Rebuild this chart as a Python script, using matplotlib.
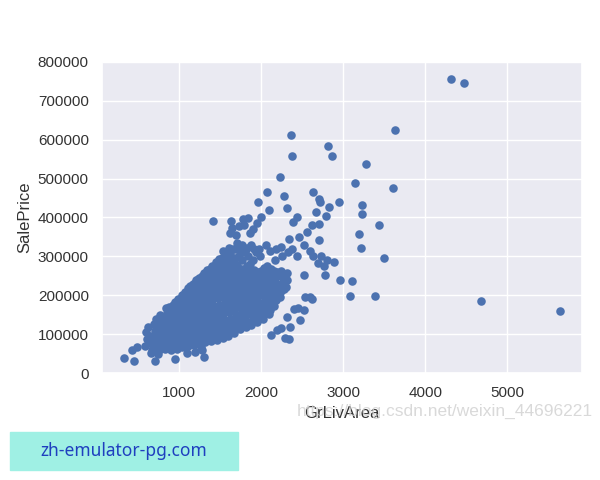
import matplotlib
matplotlib.use("Agg")
import matplotlib.pyplot as plt
import seaborn as sns

# GrLivArea (sq ft), SalePrice in $1000
core_points = [
    (590, 70), (610, 88), (605, 105), (630, 118), (640, 78), (655, 96),
    (680, 60), (700, 75), (690, 92), (710, 108), (705, 125), (720, 138), (735, 85), (730, 118),
    (760, 58), (775, 72), (770, 90), (785, 104), (765, 120), (790, 135), (780, 150), (800, 82),
    (830, 62), (845, 78), (840, 95), (855, 110), (835, 125), (850, 140), (860, 155), (845, 166), (870, 88), (875, 120),
    (905, 60), (915, 74), (925, 90), (910, 104), (930, 118), (920, 132), (935, 146), (915, 160), (930, 174), (945, 100), (950, 155),
    (975, 62), (990, 78), (985, 93), (1000, 108), (980, 122), (995, 137), (1005, 150), (985, 165), (1000, 178), (990, 190), (1015, 128),
    (1045, 66), (1060, 82), (1055, 96), (1070, 112), (1050, 126), (1065, 140), (1075, 154), (1055, 168), (1070, 182), (1060, 196), (1080, 208), (1085, 90),
    (1115, 70), (1130, 86), (1125, 100), (1140, 115), (1120, 130), (1135, 145), (1145, 158), (1125, 172), (1140, 186), (1130, 200), (1150, 212), (1135, 224), (1155, 135),
    (1185, 72), (1200, 88), (1195, 104), (1210, 118), (1190, 132), (1205, 147), (1215, 162), (1195, 176), (1210, 190), (1200, 205), (1220, 218), (1205, 232), (1215, 240),
    (1255, 76), (1270, 92), (1265, 108), (1280, 122), (1260, 136), (1275, 150), (1285, 165), (1265, 180), (1280, 194), (1270, 208), (1290, 222), (1275, 236), (1285, 250),
    (1325, 80), (1340, 95), (1335, 110), (1350, 125), (1330, 140), (1345, 155), (1355, 170), (1335, 185), (1350, 200), (1340, 214), (1360, 228), (1345, 242), (1355, 256), (1340, 266),
    (1395, 82), (1410, 98), (1405, 114), (1420, 128), (1400, 144), (1415, 158), (1425, 172), (1405, 188), (1420, 202), (1410, 216), (1430, 230), (1415, 245), (1425, 260), (1410, 275),
    (1465, 86), (1480, 102), (1475, 118), (1490, 132), (1470, 148), (1485, 162), (1495, 176), (1475, 192), (1490, 206), (1480, 220), (1500, 234), (1485, 250), (1495, 265), (1480, 280), (1490, 294),
    (1535, 90), (1550, 106), (1545, 122), (1560, 136), (1540, 152), (1555, 166), (1565, 180), (1545, 196), (1560, 210), (1550, 224), (1570, 238), (1555, 254), (1565, 270), (1550, 286), (1560, 302), (1545, 314),
    (1605, 94), (1620, 110), (1615, 126), (1630, 140), (1610, 156), (1625, 170), (1635, 184), (1615, 200), (1630, 214), (1620, 228), (1640, 242), (1625, 258), (1635, 274), (1620, 290), (1630, 306), (1615, 322),
    (1675, 104), (1690, 118), (1685, 134), (1700, 148), (1680, 162), (1695, 176), (1705, 190), (1685, 206), (1700, 220), (1690, 234), (1710, 248), (1695, 262), (1705, 278), (1690, 296), (1700, 318), (1710, 334),
    (1745, 112), (1760, 126), (1755, 142), (1770, 156), (1750, 170), (1765, 184), (1775, 198), (1755, 212), (1770, 226), (1760, 240), (1780, 254), (1765, 268), (1775, 290), (1760, 310), (1770, 330),
    (1815, 118), (1830, 132), (1825, 148), (1840, 162), (1820, 176), (1835, 190), (1845, 204), (1825, 218), (1840, 232), (1830, 246), (1850, 260), (1835, 276), (1845, 300), (1830, 322),
    (1885, 124), (1900, 138), (1895, 154), (1910, 168), (1890, 182), (1905, 196), (1915, 210), (1895, 224), (1910, 238), (1900, 252), (1920, 266), (1905, 290), (1915, 318),
    (1955, 130), (1970, 146), (1965, 162), (1980, 176), (1960, 190), (1975, 204), (1985, 218), (1965, 232), (1980, 246), (1970, 260), (1990, 300), (1975, 320),
    (2025, 140), (2040, 156), (2035, 172), (2050, 186), (2030, 200), (2045, 214), (2055, 228), (2035, 242), (2050, 256), (2040, 270), (2060, 330),
    (2095, 152), (2110, 168), (2105, 184), (2120, 198), (2100, 212), (2115, 226), (2125, 240), (2105, 254), (2120, 268), (2110, 315),
    (2165, 172), (2180, 188), (2175, 204), (2190, 218), (2170, 232), (2185, 246), (2195, 260), (2175, 290), (2190, 320),
    (2235, 195), (2250, 212), (2245, 230), (2260, 248), (2240, 262), (2255, 300), (2245, 325),
    (2310, 220), (2325, 238), (2320, 256), (2335, 310), (2340, 345),
]

# houses sitting between the columns above, where the cloud is thickest
core_fill = [
    (745, 65), (750, 98), (755, 130), (740, 110),
    (815, 68), (820, 100), (810, 115), (825, 145), (805, 130),
    (885, 70), (880, 85), (890, 115), (895, 135), (885, 150), (880, 170),
    (955, 70), (950, 85), (960, 112), (965, 142), (955, 168), (960, 182),
    (1025, 75), (1030, 100), (1020, 115), (1035, 145), (1025, 160), (1030, 188), (1040, 200),
    (1095, 78), (1100, 105), (1090, 120), (1105, 148), (1095, 162), (1100, 190), (1110, 218),
    (1165, 80), (1170, 95), (1160, 110), (1175, 140), (1165, 165), (1170, 195), (1180, 228),
    (1235, 84), (1240, 100), (1230, 126), (1245, 142), (1235, 172), (1240, 200), (1250, 230), (1245, 245),
    (1305, 88), (1310, 102), (1300, 130), (1315, 160), (1305, 178), (1310, 205), (1320, 235), (1315, 258),
    (1375, 90), (1380, 118), (1370, 134), (1385, 165), (1375, 196), (1380, 222), (1390, 250), (1385, 268),
    (1445, 94), (1450, 124), (1440, 140), (1455, 170), (1445, 198), (1450, 228), (1460, 258), (1455, 285),
    (1515, 98), (1520, 128), (1510, 144), (1525, 174), (1515, 202), (1520, 232), (1530, 262), (1525, 295),
    (1585, 102), (1590, 132), (1580, 160), (1595, 190), (1585, 218), (1590, 248), (1600, 278), (1595, 310),
    (1655, 110), (1660, 140), (1650, 168), (1665, 196), (1655, 226), (1660, 256), (1670, 286), (1665, 320),
    (1725, 118), (1730, 150), (1720, 178), (1735, 204), (1725, 232), (1730, 262), (1740, 300), (1735, 325),
    (1795, 125), (1800, 156), (1790, 184), (1805, 212), (1795, 240), (1800, 268), (1810, 310),
    (1865, 130), (1870, 160), (1860, 190), (1875, 218), (1865, 246), (1870, 280), (1880, 330),
    (1935, 138), (1940, 170), (1930, 198), (1945, 226), (1935, 254), (1940, 310),
    (2005, 148), (2010, 180), (2000, 208), (2015, 236), (2005, 262),
    (2075, 160), (2080, 192), (2070, 220), (2085, 248), (2075, 275),
    (2145, 180), (2150, 210), (2140, 238), (2155, 262),
    (2215, 200), (2220, 225), (2210, 255),
    (2285, 215), (2290, 245),
]

fringe_points = [
    (334, 39), (462, 32), (712, 32), (960, 36), (1307, 41), (437, 59), (498, 68), (1288, 59),
    (660, 51), (750, 48), (1100, 52), (1200, 55), (1267, 66),
    (1227, 239), (1180, 225), (1413, 391), (1640, 392),
    (1650, 372), (1730, 378), (1800, 380), (1850, 398), (1900, 370), (1950, 385),
    (2000, 400), (1780, 395), (1870, 360), (1620, 360), (1700, 355),
    (2118, 162), (2199, 110), (2361, 119), (2130, 98), (2250, 115), (2300, 90), (2345, 88),
    (2400, 165), (2450, 168), (2320, 145), (2482, 136), (2523, 162),
    (2543, 196), (2604, 196), (2620, 190), (2523, 252), (2786, 252), (2770, 275),
    (2700, 282), (2730, 300), (2800, 290), (2887, 286), (2705, 343), (2564, 363),
    (2440, 300), (2520, 330), (2600, 315), (2380, 320), (2460, 350), (2640, 300),
    (1972, 439), (2106, 419), (2321, 425), (2442, 402), (2394, 388),
    (2673, 413), (2798, 403), (2624, 381), (2710, 384),
]

outlier_points = [
    (4316, 755), (4476, 745), (4676, 185), (5642, 160), (3627, 625),
    (2364, 612), (2385, 558), (2822, 583), (2868, 557), (3279, 538),
    (3142, 488), (3608, 475), (2235, 503), (2078, 465), (2280, 455),
    (2637, 466), (2710, 447), (2725, 440), (2827, 426), (2952, 440),
    (3232, 432), (3232, 410), (3442, 381), (3195, 358), (3219, 321),
    (3495, 295), (2968, 239), (3110, 237), (3082, 198), (3386, 199),
]

all_points = core_points + core_fill + fringe_points + outlier_points
gr_liv_area = [p[0] for p in all_points]
sale_price = [p[1] * 1000 for p in all_points]


def main():
    sns.set_theme(style="darkgrid")
    plt.rcParams["font.family"] = ["Liberation Sans", "DejaVu Sans"]

    fig = plt.figure(figsize=(6, 4.8), dpi=100)
    ax = fig.add_axes([0.17, 0.2229, 0.8, 0.648])
    ax.scatter(gr_liv_area, sale_price, s=38, color="#4C72B0", linewidths=0)
    ax.set_ylim(0, 800000)
    ax.set_xticks([1000, 2000, 3000, 4000, 5000])
    ax.set_yticks(range(0, 800001, 100000))
    ax.tick_params(labelsize=11, labelcolor="#333333")
    ax.set_xlabel("GrLivArea", fontsize=12, color="#333333")
    ax.set_ylabel("SalePrice", fontsize=12, color="#333333")

    # blog watermark and the overlay box seen in the screenshot
    fig.text(0.988, 0.142, "https://blog.csdn.net/weixin_44696221", ha="right", va="center",
             fontsize=12.5, color="#d0d0d0", alpha=0.8)
    fig.patches.append(plt.Rectangle((10 / 600, 1 - 470 / 480), 228 / 600, 38 / 480,
                                     transform=fig.transFigure, color="#9ff0e4", zorder=0))
    fig.text(124 / 600, 1 - 451 / 480, "zh-emulator-pg.com", ha="center", va="center",
             fontsize=12.5, color="#1f3fbf", family=["Noto Sans", "DejaVu Sans"])

    fig.savefig("out.png", dpi=100)
    plt.close(fig)


if __name__ == "__main__":
    main()
